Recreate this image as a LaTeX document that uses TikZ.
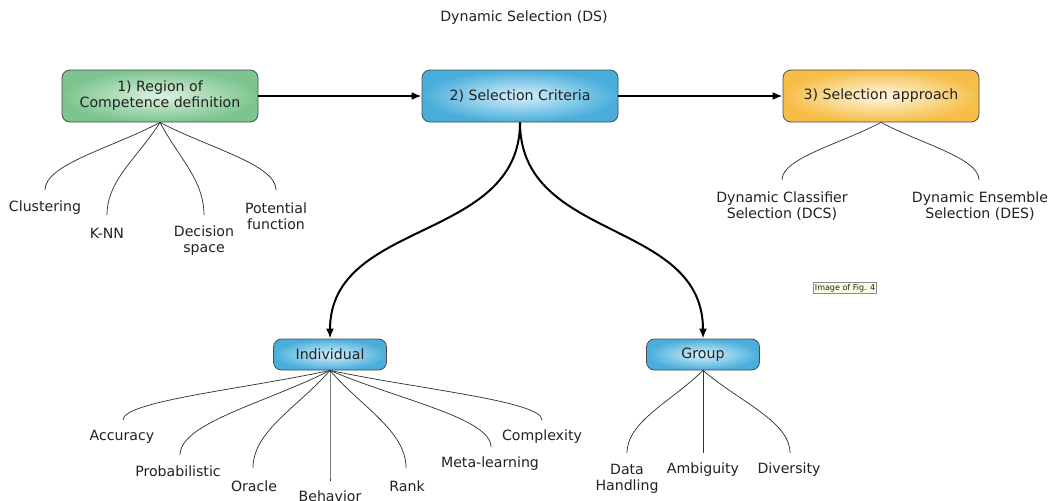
\documentclass[tikz,border=0pt]{standalone}
\usepackage{fontspec}
\setmainfont{DejaVu Sans}
\usetikzlibrary{arrows.meta,calc}

\definecolor{grnout}{HTML}{7DC48F}
\definecolor{grnin}{HTML}{DDF2E0}
\definecolor{bluout}{HTML}{49AEDB}
\definecolor{bluin}{HTML}{D6F0FB}
\definecolor{orgout}{HTML}{F6BE48}
\definecolor{orgin}{HTML}{FFF7E2}
\definecolor{txt}{HTML}{222222}
\definecolor{tipfill}{HTML}{FBFBE4}

% curved fan-out branch: leaves the hub towards the leaf and arrives vertically
\newcommand\fanbranch[2]{%
  \draw[branchline] let \p1=(#1), \p2=(#2) in
    (\p1) .. controls ({\x1+0.42*(\x2-\x1)},{\y1+0.38*(\y2-\y1)})
             and ({\x2},{\y2-0.38*(\y2-\y1)}) .. (\p2);}

\begin{document}
\begin{tikzpicture}[x=0.75pt,y=-0.75pt,
  font=\fontsize{10.6}{12}\selectfont, text=txt,
  mainbox/.style={draw=black!70, line width=0.6pt, rounded corners=6pt,
    minimum width=147pt, minimum height=39pt, align=center, inner sep=2pt},
  subbox/.style={mainbox, minimum width=84.75pt, minimum height=23.25pt},
  greenfill/.style={inner color=grnin, outer color=grnout},
  bluefill/.style={inner color=bluin, outer color=bluout},
  orangefill/.style={inner color=orgin, outer color=orgout},
  leaf/.style={align=center, inner sep=0pt},
  branchline/.style={draw=black!80, line width=0.55pt},
  mainarrow/.style={draw=black, line width=1.5pt, -{Latex[length=7.5pt,width=6pt]}},
]
\useasboundingbox (0,0) rectangle (1048,500);
\fill[white] (0,0) rectangle (1048,500);

% title
\node (title) at (524,18) {Dynamic Selection (DS)};

% main stages
\node[mainbox, greenfill] (roc) at (160,96) {1) Region of\\Competence definition};
\node[mainbox, bluefill] (crit) at (520,96) {2) Selection Criteria};
\node[mainbox, orangefill] (appr) at (881,96) {3) Selection approach};

\draw[mainarrow] (roc.east) -- (crit.west);
\draw[mainarrow] (crit.east) -- (appr.west);

% criteria sub-boxes
\node[subbox, bluefill] (ind) at (330,354.5) {Individual};
\node[subbox, bluefill] (grp) at (703,354.5) {Group};

\draw[mainarrow] (crit.south) .. controls ($(crit.south)+(0,120)$) and ($(ind.north)+(0,-120)$) .. (ind.north);
\draw[mainarrow] (crit.south) .. controls ($(crit.south)+(0,120)$) and ($(grp.north)+(0,-120)$) .. (grp.north);

% region of competence leaves
\node[leaf] (clu) at (45,208) {Clustering};
\node[leaf] (knn) at (107,233) {K-NN};
\node[leaf] (dec) at (204,241) {Decision\\space};
\node[leaf] (pot) at (276,216) {Potential\\function};
\coordinate (e-clu) at (45,190);
\coordinate (e-knn) at (107,215);
\coordinate (e-dec) at (204,215);
\coordinate (e-pot) at (276,190);
\fanbranch{roc.south}{e-clu}
\fanbranch{roc.south}{e-knn}
\fanbranch{roc.south}{e-dec}
\fanbranch{roc.south}{e-pot}

% selection approach leaves
\node[leaf] (dcs) at (782,206) {Dynamic Classifier\\Selection (DCS)};
\node[leaf] (des) at (980,206) {Dynamic Ensemble\\Selection (DES)};
\coordinate (e-dcs) at (782,180);
\coordinate (e-des) at (979,180);
\fanbranch{appr.south}{e-dcs}
\fanbranch{appr.south}{e-des}

% individual criteria leaves
\node[leaf] (acc) at (122,437) {Accuracy};
\node[leaf] (prob) at (178,471) {Probabilistic};
\node[leaf] (orc) at (254,486) {Oracle};
\node[leaf] (beh) at (330,496) {Behavior};
\node[leaf] (rank) at (407,486) {Rank};
\node[leaf] (meta) at (490,464) {Meta-learning};
\node[leaf] (cpx) at (542,437) {Complexity};
\coordinate (e-acc) at (123,420);
\coordinate (e-prob) at (180,455);
\coordinate (e-orc) at (253,468);
\coordinate (e-beh) at (330,481);
\coordinate (e-rank) at (406,468);
\coordinate (e-meta) at (491,447);
\coordinate (e-cpx) at (542,420);
\foreach \e in {e-acc,e-prob,e-orc,e-beh,e-rank,e-meta,e-cpx}{\fanbranch{ind.south}{\e}}

% group criteria leaves
\node[leaf] (dat) at (627,478.5) {Data\\Handling};
\node[leaf] (amb) at (703,470) {Ambiguity};
\node[leaf] (div) at (789,470) {Diversity};
\coordinate (e-dat) at (627,453);
\coordinate (e-amb) at (703,453);
\coordinate (e-div) at (790,453);
\foreach \e in {e-dat,e-amb,e-div}{\fanbranch{grp.south}{\e}}

% hover tooltip
\node[draw=black!45, fill=tipfill, line width=0.4pt, inner sep=1.2pt,
      font=\fontsize{6}{7}\selectfont] (tip) at (845,288) {Image of Fig. 4};
\end{tikzpicture}
\end{document}
